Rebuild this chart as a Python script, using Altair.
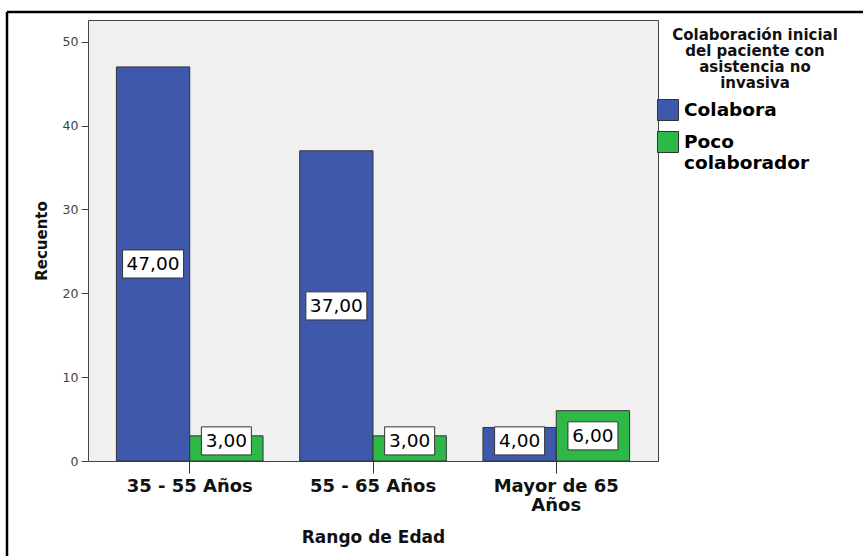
import altair as alt
import pandas as pd

# Age bands and the two patient-cooperation groups
age_groups = ["35 - 55 Años", "55 - 65 Años", "Mayor de 65 Años"]
cooperation = ["Colabora", "Poco colaborador"]

# Patient counts per age band
colabora_counts = [47, 37, 4]
poco_counts = [3, 3, 6]

series_colors = ["#3E58AC", "#2EB848"]
legend_title = ["Colaboración inicial", "del paciente con", "asistencia no", "invasiva"]

FONT = "DejaVu Sans"
BLANK = "\u2800"  # blank glyph that is not stripped as whitespace

rows = []
for grp, a, b in zip(age_groups, colabora_counts, poco_counts):
    for coop, v in zip(cooperation, (a, b)):
        lbl = f"{v:.2f}".replace(".", ",")
        rows.append({
            "grupo": grp,
            "colaboracion": coop,
            "recuento": v,
            "etiqueta": lbl,
            # value labels sit at mid-bar, kept clear of the baseline
            "pos": max(v / 2, 2.4),
            "ancho": str(len(lbl)),
        })
df = pd.DataFrame(rows)

# white label boxes (custom symbol paths, scaled by the point size)
box_paths = {
    "5": "M-1,-0.46L1,-0.46L1,0.46L-1,0.46Z",
    "4": "M-0.82,-0.46L0.82,-0.46L0.82,0.46L-0.82,0.46Z",
}

x_enc = alt.X(
    "grupo:N",
    sort=age_groups,
    scale=alt.Scale(paddingInner=0.2, paddingOuter=0.155),
    axis=alt.Axis(
        title="Rango de Edad",
        titleFont=FONT, titleFontSize=17, titleFontWeight="bold", titleColor="#111",
        titlePadding=15,
        labelFont=FONT, labelFontSize=18, labelFontWeight="bold", labelColor="#111",
        labelAngle=0, labelPadding=4, labelLineHeight=19,
        labelExpr="datum.label == 'Mayor de 65 Años' ? ['Mayor de 65', 'Años'] : datum.label",
        tickSize=12, tickColor="#333", tickWidth=1,
        domain=False,
    ),
)
xoff_enc = alt.XOffset(
    "colaboracion:N", sort=cooperation,
    scale=alt.Scale(paddingInner=0, paddingOuter=0),
)

base = alt.Chart(df).encode(x=x_enc, xOffset=xoff_enc)

# wrapped legend label; the trailing blank glyphs widen the entry column so the
# centred legend title sits over it
legend_label_expr = (
    "datum.label == 'Poco colaborador' ? ['Poco', 'colaborador"
    + BLANK * 3
    + "'] : datum.label"
)

bars = base.mark_bar(stroke="#333", strokeWidth=1).encode(
    y=alt.Y(
        "recuento:Q",
        scale=alt.Scale(domain=[0, 52.6], nice=False, zero=True),
        axis=alt.Axis(
            values=[0, 10, 20, 30, 40, 50],
            title="Recuento",
            titleFont=FONT, titleFontSize=15, titleFontWeight="bold", titleColor="#111",
            titlePadding=13,
            labelFont=FONT, labelFontSize=12.5, labelColor="#444", labelPadding=3,
            tickSize=7, tickColor="#444", tickWidth=1,
            grid=False, domain=False,
        ),
    ),
    color=alt.Color(
        "colaboracion:N",
        sort=cooperation,
        scale=alt.Scale(domain=cooperation, range=series_colors),
        legend=alt.Legend(
            title=legend_title,
            orient="none", legendX=569, legendY=8,
            titleFont=FONT, titleFontSize=15, titleFontWeight="bold", titleColor="#111",
            titleAlign="center", titleAnchor="middle", titleLineHeight=16, titlePadding=8,
            symbolType="square", symbolSize=441, symbolStrokeColor="#333",
            symbolStrokeWidth=1, symbolOpacity=1,
            labelFont=FONT, labelFontSize=18.5, labelFontWeight="bold", labelColor="#000",
            labelOffset=5, labelLimit=300,
            labelExpr=legend_label_expr,
            rowPadding=6,
        ),
    ),
)

boxes = base.mark_point(
    filled=True, fill="white", stroke="#333", strokeWidth=1, opacity=1, size=3721
).encode(
    y="pos:Q",
    shape=alt.Shape(
        "ancho:N",
        scale=alt.Scale(domain=list(box_paths.keys()), range=list(box_paths.values())),
        legend=None,
    ),
)

labels = base.mark_text(font=FONT, fontSize=18.5, color="#000").encode(
    y="pos:Q",
    text="etiqueta:N",
)

# outer frame of the chart window
frame_df = pd.DataFrame({"k": [0]})
frame_top = alt.Chart(frame_df).mark_rule(color="#000", strokeWidth=2.5).encode(
    x=alt.value(-81), x2=alt.value(775), y=alt.value(-8)
)
frame_left = alt.Chart(frame_df).mark_rule(color="#000", strokeWidth=2.5).encode(
    x=alt.value(-81), y=alt.value(-8), y2=alt.value(540)
)

chart = (
    alt.layer(bars, boxes, labels, frame_top, frame_left)
    .properties(
        width=570,
        height=441,
        autosize=alt.AutoSizeParams(type="none"),
        padding={"left": 88, "top": 20, "right": 207, "bottom": 95},
        background="white",
    )
    .configure_view(fill="#f0f0f0", stroke="#444", strokeWidth=1)
)

chart.save("out.html", embed_options={"renderer": "svg", "actions": False})
